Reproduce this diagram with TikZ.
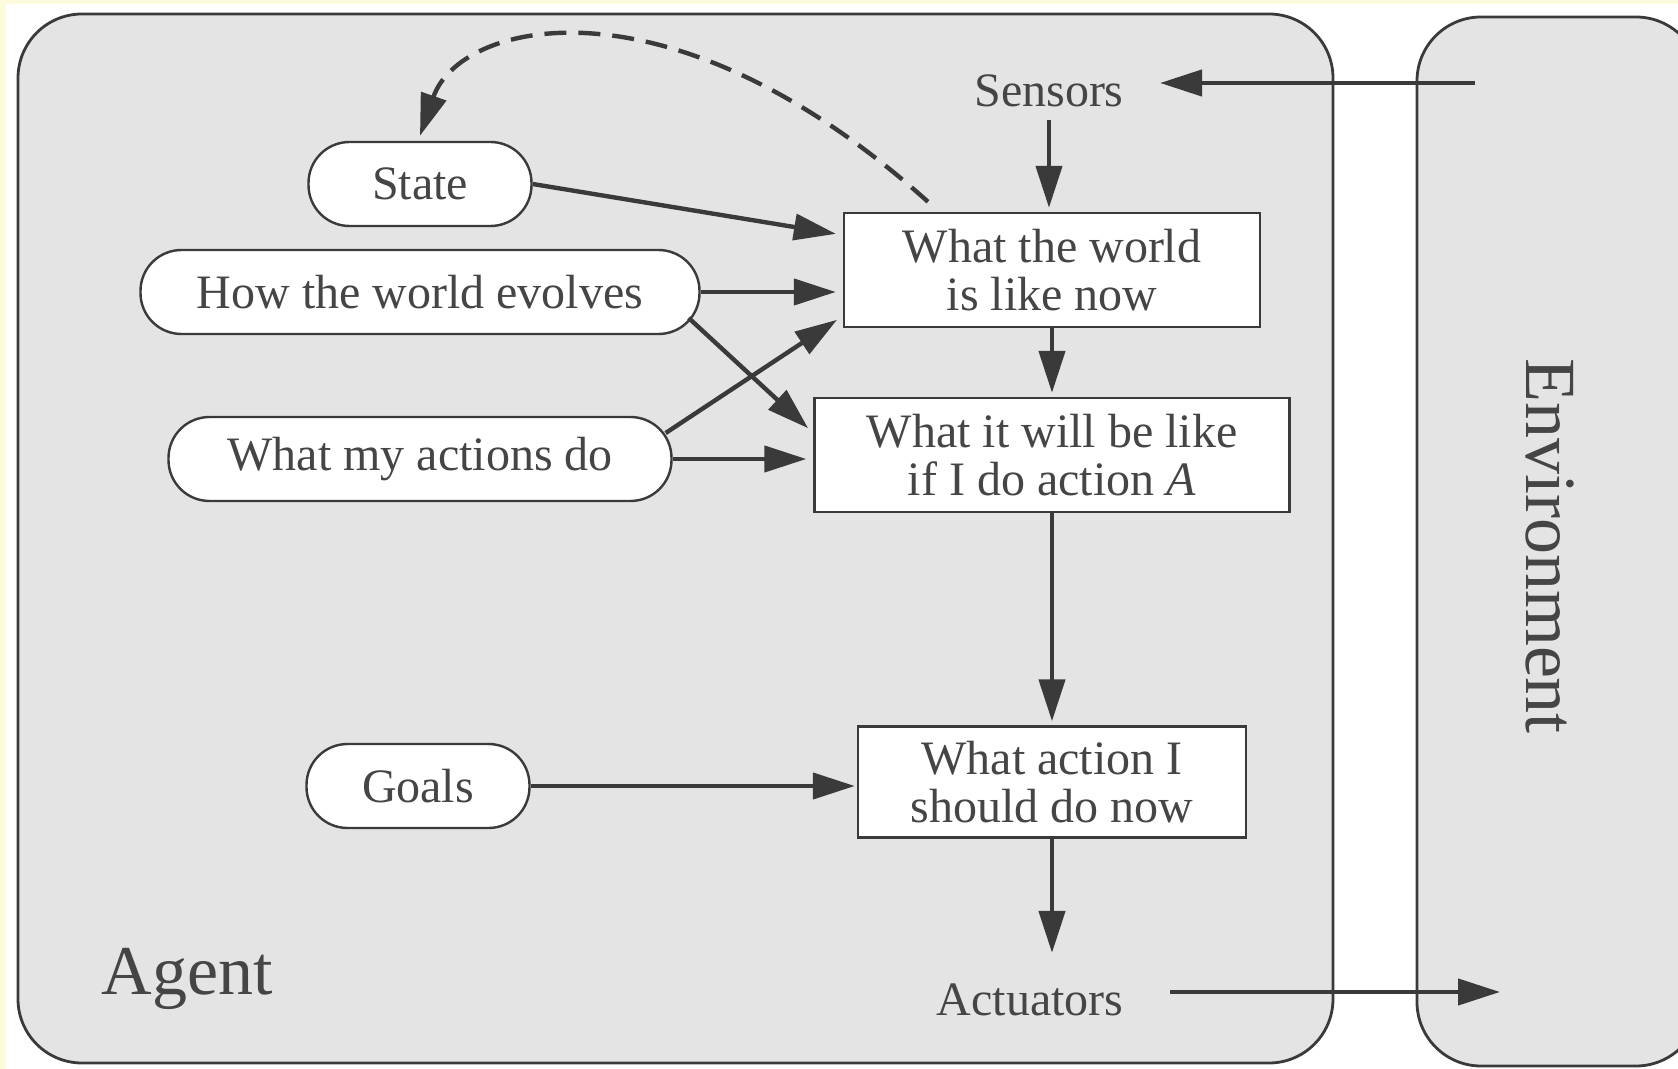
\documentclass[tikz,border=0pt]{standalone}
\usepackage{fontspec}
\setmainfont{Liberation Serif}
\usetikzlibrary{arrows.meta,positioning}
\usepackage{xcolor}
\definecolor{ink}{HTML}{3A3A3A}
\definecolor{txt}{HTML}{454545}
\definecolor{panel}{HTML}{E4E4E4}
\definecolor{margin}{HTML}{FCFCDC}

\begin{document}
\begin{tikzpicture}[x=0.5pt,y=-0.5pt,
  font=\fontsize{24}{24}\selectfont, text=txt,
  oval/.style={draw=ink, line width=1.2pt, fill=white, rounded corners=20.5pt, minimum height=42pt},
  box/.style={draw=ink, line width=1.2pt, fill=white, align=center, minimum height=57pt},
  arr/.style={draw=ink, line width=2.2pt, shorten >=2pt, -{Triangle[length=21pt,width=13pt]}},
  panelbox/.style={draw=ink, line width=1.4pt, fill=panel, rounded corners=32pt}]
\useasboundingbox (0,0) rectangle (1678,1069);
\fill[margin] (0,0) rectangle (1678,1069);
\fill[white] (6,4) rectangle (1678,1069);
\begin{scope}
  \clip (0,0) rectangle (1678,1069);
  \draw[panelbox] (18,14) rectangle (1333,1063);
  \draw[panelbox] (1417,17) rectangle (1700,1066);
\end{scope}

% labels of the two panels
\node[font=\fontsize{35}{35}\selectfont] (agent) at (187,979) {Agent};
\node[rotate=-90, font=\fontsize{36}{36}\selectfont] (env) at (1550,546) {Environment};

% inside the agent
\node[inner xsep=16pt, inner ysep=6pt] (sensors) at (1049,91) {Sensors};
\node (actuators) at (1030,1000) {Actuators};
\node[box, minimum width=208pt] (world) at (1052,270) {What the world\\is like now};
\node[box, minimum width=237.5pt] (will) at (1052,455) {What it will be like\\if I do action \emph{A}};
\node[box, minimum width=194pt, minimum height=55.5pt] (action) at (1052,782) {What action I\\should do now};

\node[oval, minimum width=111.5pt] (state) at (420,184) {State};
\node[oval, minimum width=279.5pt] (how) at (420,292) {How the world evolves};
\node[oval, minimum width=251.5pt] (actions) at (420,459) {What my actions do};
\node[oval, minimum width=111.5pt] (goals) at (418,786) {Goals};

\coordinate (envin) at (1475,83);
\coordinate (envout) at (1504,992);

% connectors
\draw[arr] (envin) -- (envin -| sensors.east);
\draw[arr] (sensors.south) -- (sensors.south |- world.north);
\draw[arr] (world.south) -- (will.north);
\draw[arr] (will.south) -- (action.north);
\draw[arr, shorten >=12pt] (action.south) -- (action.south |- actuators.north);
\draw[arr, shorten <=20pt] (actuators.east |- envout) -- (envout);

\draw[arr, shorten >=3.5pt] (state.east) -- ([yshift=17.5pt]world.west);
\draw[arr, shorten >=3.5pt] (how.east) -- (how.east -| world.west);
\draw[arr, shorten >=3.5pt] ([xshift=-6pt,yshift=-13pt]how.east) -- ([yshift=11pt]will.west);
\draw[arr, shorten >=3.5pt] ([xshift=-3.5pt,yshift=13pt]actions.east) -- ([yshift=-23pt]world.west);
\draw[arr, shorten >=3.5pt] (actions.east) -- (actions.east -| will.west);
\draw[arr, shorten >=1pt] (goals.east) -- (goals.east -| action.west);

\draw[arr, dash pattern=on 11pt off 6pt, shorten >=0pt] ([xshift=-62pt,yshift=5pt]world.north)
  .. controls (670,-30) and (460,20) .. ([yshift=2.5pt]state.north);
\end{tikzpicture}
\end{document}
